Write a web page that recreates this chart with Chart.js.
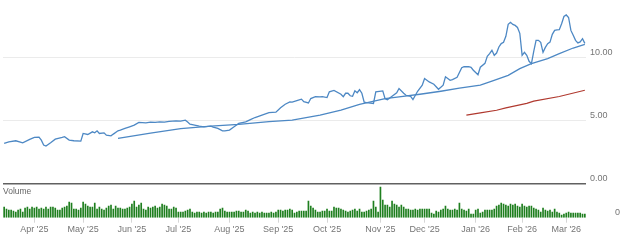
<!DOCTYPE html>
<html>
<head>
<meta charset="utf-8">
<script src="https://cdn.jsdelivr.net/npm/chart.js@4.4.1/dist/chart.umd.min.js"></script>
<style>
html, body { margin: 0; padding: 0; background: #fff; width: 620px; height: 243px; overflow: hidden; }
#price { position: absolute; left: 0; top: 0; }
#volume { position: absolute; left: 0; top: 184px; }
#volLabel { position: absolute; left: 3px; top: 186px; font: 8.5px Arial, sans-serif; color: #666; }
</style>
</head>
<body>
<canvas id="price" width="620" height="186"></canvas>
<canvas id="volume" width="620" height="59"></canvas>
<div id="volLabel">Volume</div>
<script>
// x = trading day index (0 = mid March 2025)
const monthLabels = ["Apr '25", "May '25", "Jun '25", "Jul '25", "Aug '25", "Sep '25", "Oct '25", "Nov '25", "Dec '25", "Jan '26", "Feb '26", "Mar '26"]
const monthIdx = [13, 34, 55, 75, 97, 118, 139, 162, 181, 203, 223, 242]
const lastDay = 250

const priceIdx = [0,2,5,8,11,13,15,16,17,18,20,22,25,26,28,30,33,34,36,38,39,40,41,43,44,46,47,49,50,52,54,56,58,61,63,65,67,69,71,74,76,78,79,80,82,84,86,89,90,92,94,95,97,99,101,104,106,108,111,114,117,119,121,123,124,126,128,129,131,132,134,136,137,139,140,142,145,146,147,148,149,150,151,152,153,154,155,156,159,160,163,164,165,167,169,170,172,173,175,176,178,180,181,183,185,187,189,190,192,193,195,197,198,200,201,202,204,205,207,208,209,210,211,212,213,214,215,216,217,218,219,220,221,222,223,224,225,226,227,228,229,230,231,232,233,234,235,236,237,238,239,240,241,242,243,244,245,246,247,248,249,250]
const priceVal = [3.19,3.32,3.40,3.24,3.51,3.67,3.69,3.45,3.06,2.98,3.24,3.53,3.67,3.73,3.45,3.40,3.37,3.98,3.90,4.11,4.03,4.19,3.98,4.03,3.85,3.79,3.93,4.19,4.25,4.38,4.51,4.64,4.86,4.83,4.88,4.86,4.90,4.88,4.94,4.98,4.96,5.04,4.90,4.72,4.64,4.56,4.51,4.56,4.48,4.38,4.19,4.19,4.25,4.51,4.78,4.90,5.08,5.25,5.44,5.64,5.67,6.03,6.31,6.49,6.47,6.59,6.71,6.51,6.41,6.76,6.91,6.89,6.91,6.84,7.30,7.40,7.10,6.91,7.18,7.18,6.98,6.94,7.38,7.22,7.46,7.18,6.47,6.44,6.37,7.30,7.37,6.75,6.67,6.94,7.21,7.56,7.18,7.02,6.94,6.68,7.34,7.82,8.35,8.08,7.90,7.50,7.82,8.49,8.21,8.27,8.45,9.21,9.29,9.29,9.25,9.01,8.65,9.25,9.56,10.12,10.33,10.60,10.20,10.38,10.86,11.13,11.23,11.71,12.66,12.82,12.66,12.58,12.42,11.95,10.20,10.44,10.20,9.72,9.54,10.52,11.39,11.39,11.23,10.44,10.83,11.13,11.25,11.87,12.18,12.22,12.24,12.71,13.29,13.41,13.21,12.18,11.79,11.39,11.19,11.27,11.52,11.15]

const ma50Idx = [49,63,76,89,101,114,124,136,145,153,164,170,179,188,196,205,210,217,222,227,234,239,245,250]
const ma50Val = [3.59,4.01,4.37,4.56,4.70,4.92,5.04,5.44,5.83,6.30,6.76,6.89,7.10,7.34,7.58,7.82,8.14,8.61,9.14,9.54,9.94,10.33,10.78,11.07]

const ma200Idx = [199,205,212,216,225,228,239,250]
const ma200Val = [5.44,5.62,5.83,6.02,6.37,6.55,6.92,7.42]

const volume = [
	11,9,8,8,7,6,8,9,6,10,
	11,9,11,10,11,9,10,9,11,9,
	11,11,10,8,8,10,11,12,16,15,
	9,9,8,10,16,14,12,11,11,15,
	9,11,9,8,10,12,13,9,12,10,
	10,9,9,10,11,14,17,11,13,15,
	9,8,11,10,11,12,10,11,14,13,
	12,9,9,11,10,6,6,6,7,8,
	9,6,5,6,6,5,6,5,6,6,
	5,6,6,9,10,7,6,6,6,6,
	7,7,6,6,8,7,5,6,5,6,
	5,6,5,5,5,6,5,6,8,8,
	7,8,8,9,8,5,6,7,7,7,
	7,17,12,10,8,6,6,7,7,9,
	7,7,11,10,10,9,8,7,6,7,
	8,9,7,9,6,6,7,8,9,17,
	11,6,31,18,13,13,11,17,14,13,
	11,13,11,9,9,8,8,9,8,9,
	9,9,9,9,5,4,7,6,8,9,
	12,9,8,8,9,8,15,9,8,7,
	9,4,4,8,9,5,6,8,8,8,
	8,9,12,13,15,14,13,12,14,13,
	14,12,11,14,12,11,12,12,10,9,
	8,6,10,8,7,8,6,9,6,5,
	3,4,5,6,5,5,5,5,5,4,4
]

const pts = (xs, ys) => xs.map((x, i) => ({ x: x, y: ys[i] }))
const font = { family: 'Arial, sans-serif', size: 9 }
const axisWidth = 34

// stop the scales from reserving room for half a label at each end
const fitY = (s) => { s.width = axisWidth; s.paddingTop = 0; s.paddingBottom = 0 }
const fitX = (s) => { s.height = 25.3; s.paddingLeft = 0; s.paddingRight = 0 }

const priceChart = new Chart(document.getElementById('price'), {
	type: 'line',
	data: {
		datasets: [
			{ data: pts(priceIdx, priceVal), borderColor: '#4d88c4', borderWidth: 1.3 },
			{ data: pts(ma50Idx, ma50Val), borderColor: '#4d88c4', borderWidth: 1.3 },
			{ data: pts(ma200Idx, ma200Val), borderColor: '#b0392f', borderWidth: 1.2 },
		],
	},
	options: {
		responsive: false,
		animation: false,
		layout: { padding: { left: 3, top: 0, right: 0, bottom: 2.5 } },
		elements: { point: { radius: 0 }, line: { tension: 0 } },
		plugins: { legend: { display: false }, tooltip: { enabled: false } },
		scales: {
			x: { type: 'linear', min: -0.5, max: lastDay + 0.5, display: false },
			y: {
				position: 'right',
				min: 0,
				max: 14.6,
				afterBuildTicks: (s) => { s.ticks = [0, 5, 10].map((v) => ({ value: v })) },
				afterFit: fitY,
				border: { display: false },
				grid: {
					drawTicks: false,
					color: (c) => (c.tick && c.tick.value === 0 ? '#616161' : '#ebebeb'),
					lineWidth: (c) => (c.tick && c.tick.value === 0 ? 1.5 : 1),
				},
				ticks: { font: font, color: '#757575', padding: 4, labelOffset: -5, callback: (v) => v.toFixed(2) },
			},
		},
	},
})

const volumeChart = new Chart(document.getElementById('volume'), {
	type: 'bar',
	data: {
		datasets: [
			{
				data: volume.map((v, i) => ({ x: i, y: v })),
				backgroundColor: '#1f7f1f',
				barPercentage: 0.72,
				categoryPercentage: 1,
			},
		],
	},
	options: {
		responsive: false,
		animation: false,
		layout: { padding: { left: 3, top: 1, right: 0, bottom: 0 } },
		plugins: { legend: { display: false }, tooltip: { enabled: false } },
		scales: {
			x: {
				type: 'linear',
				min: -0.5,
				max: lastDay + 0.5,
				offset: false,
				afterBuildTicks: (s) => { s.ticks = monthIdx.map((v) => ({ value: v })) },
				afterFit: fitX,
				border: { display: false },
				grid: { offset: false, drawOnChartArea: false, drawTicks: true, tickLength: 5, color: '#d6d6d6' },
				ticks: {
					font: font,
					color: '#757575',
					padding: 1,
					maxRotation: 0,
					autoSkip: false,
					callback: (v) => monthLabels[monthIdx.indexOf(v)],
				},
			},
			y: {
				position: 'right',
				min: 0,
				max: 32.7,
				afterBuildTicks: (s) => { s.ticks = [{ value: 0 }] },
				afterFit: fitY,
				border: { display: false },
				grid: { display: false },
				ticks: { font: font, color: '#757575', padding: 21, labelOffset: -5 },
			},
		},
	},
})
</script>
</body>
</html>
